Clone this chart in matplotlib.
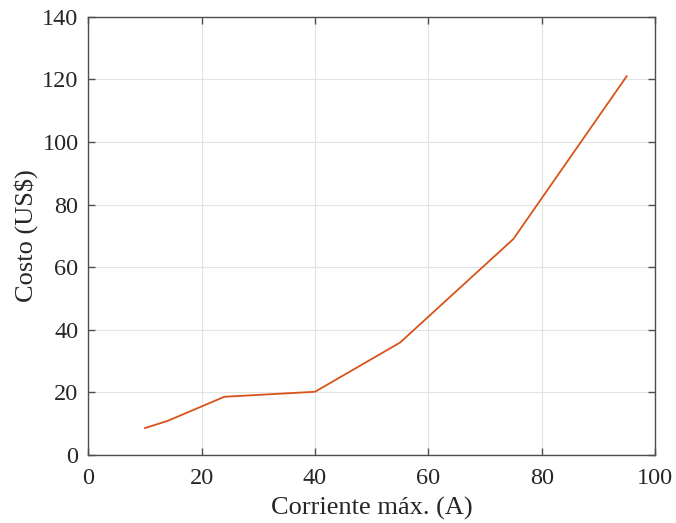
import matplotlib
matplotlib.use("Agg")
import matplotlib.pyplot as plt

# Cost vs. maximum current
corriente = [10, 14, 24, 40, 55, 75, 95]
costo = [8.6, 10.9, 18.6, 20.2, 35.9, 69.0, 121.0]

x_ticks = [0, 20, 40, 60, 80, 100]
y_ticks = [0, 20, 40, 60, 80, 100, 120, 140]

plt.rcParams['font.family'] = ['Liberation Serif', 'DejaVu Serif']
plt.rcParams['mathtext.fontset'] = 'stix'

fig = plt.figure(figsize=(6.76, 5.23), dpi=100)
ax = fig.add_axes([0.1306, 0.130, 0.8384, 0.838])

ax.plot(corriente, costo, color='#D95319', linewidth=1.3)

ax.set_xlim(0, 100)
ax.set_ylim(0, 140)
ax.set_xticks(x_ticks)
ax.set_yticks(y_ticks)
ax.grid(True, color='#e3e3e3', linewidth=0.8)
ax.set_axisbelow(True)

for s in ax.spines.values():
    s.set_color('#4d4d4d')
    s.set_linewidth(1.0)
ax.tick_params(direction='in', length=5, width=1.0, color='#4d4d4d',
               top=True, right=True, labelsize=17.5, labelcolor='#262626')
ax.tick_params(axis='x', pad=9)
ax.tick_params(axis='y', pad=7)

ax.set_xlabel('Corriente máx. (A)', fontsize=19, color='#262626', labelpad=6)
ax.set_ylabel('Costo (US$)', fontsize=19, color='#262626', labelpad=3)

fig.savefig('out.png', dpi=100)
